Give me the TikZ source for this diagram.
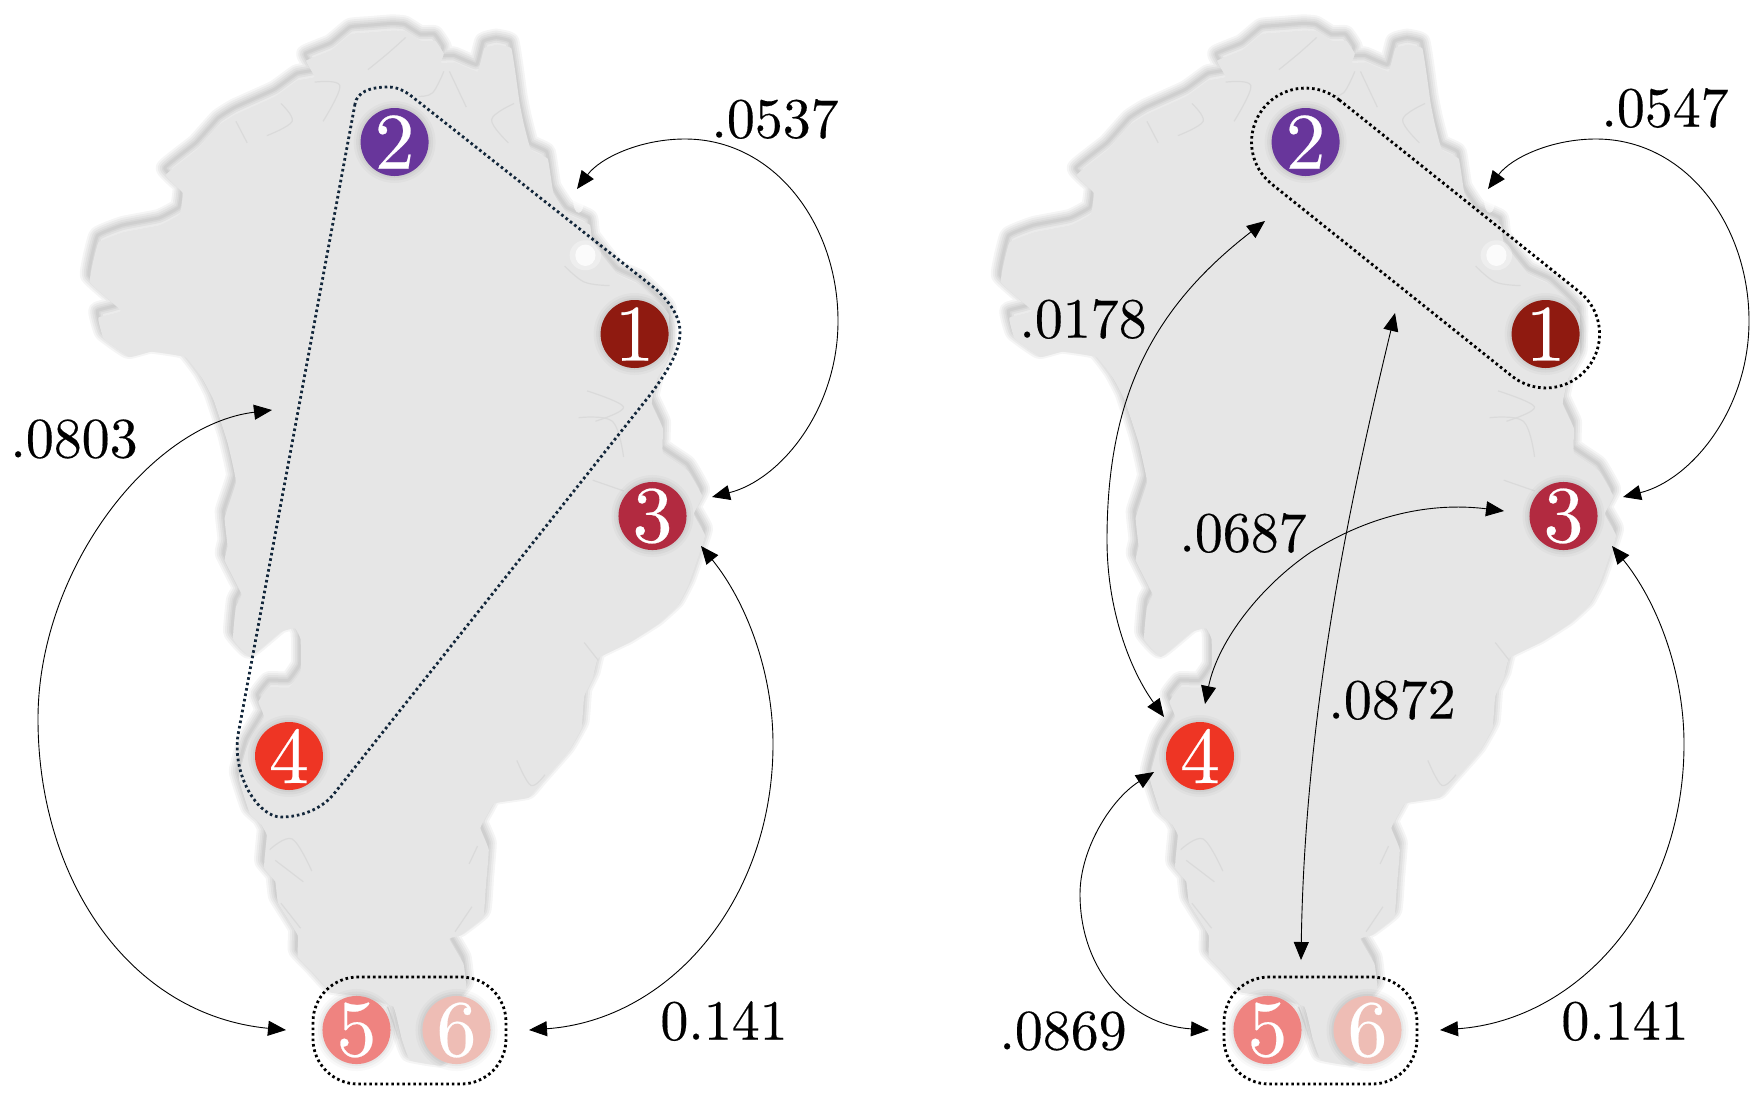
\documentclass[tikz,border=0pt]{standalone}
\usepackage{fontspec}
\usetikzlibrary{arrows.meta}
\newfontfamily\numfont{lmroman10-regular.otf}[RawFeature={embolden=0.3}]
\definecolor{land}{HTML}{E6E6E6}
\definecolor{fjord}{HTML}{DADADA}
\definecolor{hullnavy}{HTML}{12263A}
\newcommand{\landpath}{plot[smooth cycle,tension=.18] coordinates {
(625,95)(660,90)(700,85)(722,88)(750,115)(775,115)(790,150)(785,175)(810,175)(850,200)(862,135)(885,125)(910,135)(918,210)(925,290)(932,345)(945,420)(975,445)(985,540)(1010,600)(1050,630)(1055,680)(1100,770)(1140,800)(1190,880)(1190,1000)(1170,1060)(1160,1130)(1180,1200)(1180,1270)(1225,1320)(1250,1390)(1235,1440)(1255,1500)(1240,1573)(1225,1640)(1205,1700)(1170,1750)(1120,1800)(1065,1843)(1055,1900)(1040,1950)(1035,2040)(1010,2110)(960,2200)(940,2235)(880,2250)(868,2280)(855,2320)(870,2380)(865,2480)(860,2570)(820,2620)(800,2630)(825,2700)(830,2770)(815,2800)(810,2880)(795,2960)(785,2985)(730,2970)(715,2910)(700,2820)(640,2790)(590,2780)(560,2730)(530,2680)(530,2620)(495,2530)(490,2470)(470,2430)(475,2340)(465,2310)(445,2280)(425,2180)(440,2090)(470,2010)(460,1965)(480,1925)(515,1925)(535,1880)(535,1790)(525,1760)(500,1770)(445,1840)(415,1790)(420,1700)(430,1665)(400,1570)(405,1530)(400,1450)(420,1350)(405,1240)(380,1120)(360,1060)(330,1000)(270,985)(230,1000)(185,950)(175,890)(215,870)(160,790)(175,680)(220,650)(285,630)(320,600)(325,540)(295,490)(350,420)(390,350)(420,320)(490,270)(530,225)(560,215)(545,170)(590,140)}}
\newcommand{\fj}[1]{\draw[fjord,line width=1.2pt,line join=round] plot[smooth,tension=.6] coordinates {#1};}
\newcommand{\greenland}{%
  \begin{scope}[xshift=-1pt,yshift=7pt,x=.5618pt,y=-.357pt]
    \foreach \w in {18,14,10,6,3}{\draw[black,draw opacity=.04,line width=\w pt,line join=round] \landpath;}
  \end{scope}
  \begin{scope}[x=.5618pt,y=-.357pt]
    \fill[land] \landpath;
    \fj{(655,195)(690,150)(722,105)}
    \fj{(560,230)(605,240)(575,340)}
    \fj{(500,290)(520,340)(475,380)}
    \fj{(420,340)(440,400)}
    \fj{(790,200)(770,260)(745,270)}
    \fj{(800,200)(830,300)}
    \fj{(915,290)(875,335)(905,400)}
    \fj{(1005,745)(1040,790)(1085,800)}
    \fj{(1045,1095)(1110,1140)(1060,1180)}
    \fj{(1030,1170)(1090,1180)(1110,1280)}
    \fj{(1055,1345)(1110,1375)}
    \fj{(1040,1800)(1065,1850)}
    \fj{(920,2130)(945,2200)(970,2170)}
    \fj{(480,2380)(520,2350)(555,2440)}
    \fj{(490,2410)(540,2470)}
    \fj{(500,2530)(535,2600)}
    \fj{(850,2370)(835,2420)}
    \fj{(840,2540)(810,2610)}
    \fj{(690,2820)(710,2910)}
    \fill[white,opacity=.35] (1042,715) ellipse (28 and 42);
    \fill[white,opacity=.8] (1042,715) ellipse (18 and 30);
    \fill[white,opacity=.6] (1030,560) ellipse (10 and 36);
  \end{scope}}
\tikzset{
  x=1pt,y=-1pt,
  numdot/.style={circle,inner sep=0pt,minimum size=68pt,text=white,
    font=\numfont\fontsize{80}{80}\selectfont,
    preaction={draw=black,draw opacity=.025,line width=14pt},
    preaction={draw=black,draw opacity=.03,line width=9pt},
    preaction={draw=black,draw opacity=.04,line width=4pt}},
  weight/.style={inner sep=0pt,font=\numfont\fontsize{57}{57}\selectfont,text=black},
  flow/.style={black,line width=.9pt,{Triangle[length=18pt,width=15pt]}-{Triangle[length=18pt,width=15pt]}},
  hull/.style={line width=2.8pt,dash pattern=on 2.6pt off 2.9pt},
}
\newcommand{\wt}[1]{\scalebox{.98}[1]{#1}}
\begin{document}
\begin{tikzpicture}
\useasboundingbox (0,0) rectangle (1758,1104);
\fill[white] (0,0) rectangle (1758,1104);
\greenland
\begin{scope}[xshift=911pt]\greenland\end{scope}

% hulls
\draw[hull,hullnavy] (355,104) -- (238,735) .. controls (232,775) and (258,817) .. (281,817)
  .. controls (300,817) and (320,810) .. (333,795) -- (650,395)
  .. controls (670,368) and (680,350) .. (680,332) .. controls (680,315) and (668,301) .. (657,290)
  -- (410,95) .. controls (400,88) and (394,87) .. (388,87) .. controls (370,87) and (357,92) .. (355,104) -- cycle;
\draw[hull,black,rounded corners=45pt] (313,977) rectangle (506,1084);
\draw[hull,black,rounded corners=45pt] (1224,977) rectangle (1417,1084);
\draw[hull,black] (1339.25,99.9) -- (1579.4,291.9)
  .. controls (1602.7,310.5) and (1606.3,344.45) .. (1587.7,367.75)
  .. controls (1569.1,391.05) and (1535.15,394.7) .. (1511.85,376.1)
  -- (1271.75,184.1)
  .. controls (1248.45,165.5) and (1244.8,131.55) .. (1263.4,108.25)
  .. controls (1282,84.95) and (1315.95,81.3) .. (1339.25,99.9) -- cycle;

% nodes, left
\node[numdot,fill={rgb,255:red,143;green,26;blue,16}] (l1) at (634.6,334) {1};
\node[numdot,fill={rgb,255:red,104;green,54;blue,155}] (l2) at (394.6,142) {2};
\node[numdot,fill={rgb,255:red,178;green,42;blue,64}] (l3) at (652.5,516) {3};
\node[numdot,fill={rgb,255:red,238;green,53;blue,36}] (l4) at (289,756) {4};
\node[numdot,fill={rgb,255:red,239;green,131;blue,128}] (l5) at (356.5,1030) {5};
\node[numdot,fill={rgb,255:red,238;green,189;blue,181}] (l6) at (456.5,1030) {6};
% nodes, right
\node[numdot,fill={rgb,255:red,143;green,26;blue,16}] (r1) at (1545.6,334) {1};
\node[numdot,fill={rgb,255:red,104;green,54;blue,155}] (r2) at (1305.6,142) {2};
\node[numdot,fill={rgb,255:red,178;green,42;blue,64}] (r3) at (1563.5,516) {3};
\node[numdot,fill={rgb,255:red,238;green,53;blue,36}] (r4) at (1200,756) {4};
\node[numdot,fill={rgb,255:red,239;green,131;blue,128}] (r5) at (1267.5,1030) {5};
\node[numdot,fill={rgb,255:red,238;green,189;blue,181}] (r6) at (1367.5,1030) {6};

% connector ends
\coordinate (la1) at (577,189); \coordinate (la2) at (712,497);
\coordinate (lb1) at (272,410); \coordinate (lb2) at (286,1030);
\coordinate (lc1) at (701,546); \coordinate (lc2) at (529,1030);
\coordinate (ra1) at (1488,189); \coordinate (ra2) at (1623,497);
\coordinate (rc1) at (1612,546); \coordinate (rc2) at (1440,1030);
\coordinate (rd1) at (1265,221); \coordinate (rd2) at (1164,717);
\coordinate (re1) at (1504,511); \coordinate (re2) at (1205,704);
\coordinate (rf1) at (1395,313); \coordinate (rf2) at (1301,960);
\coordinate (rg1) at (1154,772); \coordinate (rg2) at (1209,1030);

% connectors
\draw[flow] (la1) .. controls (600,158) and (640,139) .. (685,139) .. controls (775,139) and (838,225) .. (838,321) .. controls (838,410) and (780,480) .. (la2);
\draw[flow] (lb1) .. controls (150,425) and (38,570) .. (38,719) .. controls (38,880) and (130,1015) .. (lb2);
\draw[flow] (lc1) .. controls (745,600) and (773,670) .. (773,744) .. controls (773,900) and (670,1020) .. (lc2);
\draw[flow] (ra1) .. controls (1511,158) and (1551,139) .. (1596,139) .. controls (1686,139) and (1749,225) .. (1749,321) .. controls (1749,410) and (1691,480) .. (ra2);
\draw[flow] (rc1) .. controls (1656,600) and (1684,670) .. (1684,744) .. controls (1684,900) and (1581,1020) .. (rc2);
\draw[flow] (rd1) .. controls (1150,310) and (1107,400) .. (1107,540) .. controls (1107,610) and (1130,670) .. (rd2);
\draw[flow] (re1) .. controls (1440,503) and (1378,510) .. (1311,552) .. controls (1262,585) and (1218,640) .. (re2);
\draw[flow] (rf1) .. controls (1355,480) and (1305,700) .. (rf2);
\draw[flow] (rg1) .. controls (1110,800) and (1080,850) .. (1080,894) .. controls (1080,970) and (1130,1025) .. (rg2);

% weights
\node[weight] (w1) at (775,119) {\wt{.0537}};
\node[weight] (w2) at (74,439) {\wt{.0803}};
\node[weight] (w3) at (724,1021) {\wt{0.141}};
\node[weight] (w4) at (1665,108) {\wt{.0547}};
\node[weight] (w5) at (1083,319) {\wt{.0178}};
\node[weight] (w6) at (1243,533) {\wt{.0687}};
\node[weight] (w7) at (1392,700) {\wt{.0872}};
\node[weight] (w8) at (1625,1021) {\wt{0.141}};
\node[weight] (w9) at (1063,1031) {\wt{.0869}};
\end{tikzpicture}
\end{document}
